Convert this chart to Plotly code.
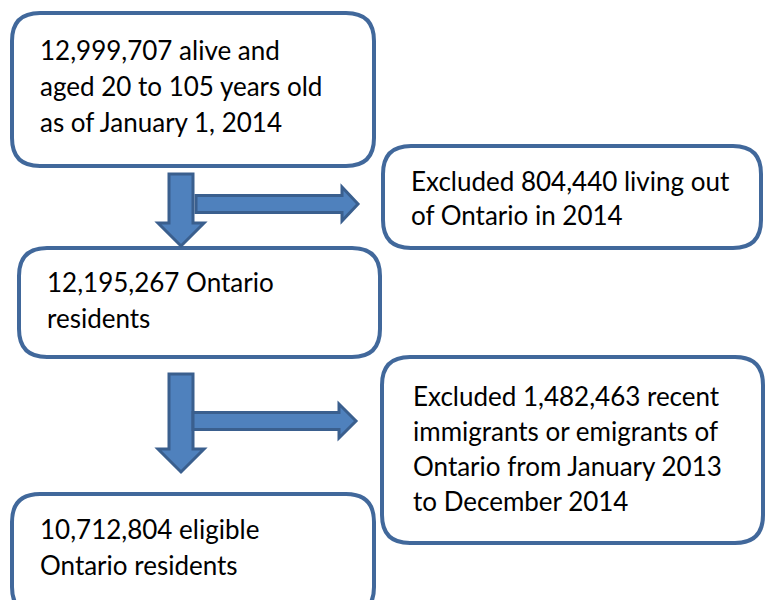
import plotly.graph_objects as go

# ---- content ----
box_texts = [
    ["12,999,707 alive and", "aged 20 to 105 years old", "as of January 1, 2014"],
    ["Excluded 804,440 living out", "of Ontario in 2014"],
    ["12,195,267 Ontario", "residents"],
    ["Excluded 1,482,463 recent", "immigrants or emigrants of", "Ontario from January 2013", "to December 2014"],
    ["10,712,804 eligible", "Ontario residents"],
]

# ---- layout (pixels, y downwards) ----
boxes = [  # x0, y0, x1, y1
    (12, 13, 374, 166),
    (383, 146, 761, 248),
    (19, 248, 380, 357),
    (382, 357, 763, 543),
    (12, 494, 374, 615),
]
text_pos = [  # x, first line center y
    (38, 50),
    (409, 181),
    (45, 282),
    (411, 396),
    (38, 529),
]
line_gap = [36, 34, 36, 35, 36]
RADIUS = 28
BORDER = "#41689B"
ARROW_FILL = "#4F81BD"
ARROW_LINE = "#3A5F8E"

def rounded(x0, y0, x1, y1, r):
    return (f"M{x0+r},{y0} L{x1-r},{y0} Q{x1},{y0} {x1},{y0+r} "
            f"L{x1},{y1-r} Q{x1},{y1} {x1-r},{y1} L{x0+r},{y1} "
            f"Q{x0},{y1} {x0},{y1-r} L{x0},{y0+r} Q{x0},{y0} {x0+r},{y0} Z")

def down_arrow(cx, y0, shaft_w, y_head, head_w, y_tip):
    h = shaft_w / 2
    H = head_w / 2
    return (f"M{cx-h},{y0} L{cx+h},{y0} L{cx+h},{y_head} L{cx+H},{y_head} "
            f"L{cx},{y_tip} L{cx-H},{y_head} L{cx-h},{y_head} Z")

def right_arrow(x0, cy, shaft_h, x_head, head_h, x_tip):
    h = shaft_h / 2
    H = head_h / 2
    return (f"M{x0},{cy-h} L{x_head},{cy-h} L{x_head},{cy-H} L{x_tip},{cy} "
            f"L{x_head},{cy+H} L{x_head},{cy+h} L{x0},{cy+h} Z")

arrows = [
    down_arrow(181, 174, 24, 223, 46, 246),
    right_arrow(196, 204, 17, 342, 34, 358),
    down_arrow(181, 374, 24, 449, 46, 472),
    right_arrow(193, 421, 17, 339, 34, 356),
]

fig = go.Figure()
shapes = []
for (x0, y0, x1, y1) in boxes:
    shapes.append(dict(type="path", path=rounded(x0, y0, x1, y1, RADIUS),
                       xref="x", yref="y", fillcolor="white",
                       line=dict(color=BORDER, width=4)))
for p in arrows:
    shapes.append(dict(type="path", path=p, xref="x", yref="y",
                       fillcolor=ARROW_FILL, line=dict(color=ARROW_LINE, width=3)))

annotations = []
for lines, (tx, ty), gap in zip(box_texts, text_pos, line_gap):
    for i, ln in enumerate(lines):
        annotations.append(dict(x=tx, y=ty + i * gap, text=ln, xref="x", yref="y",
                                xanchor="left", yanchor="middle", showarrow=False,
                                font=dict(family="Lato, Carlito, Calibri, sans-serif",
                                          size=26, color="black")))

W, H = 765, 600
fig.update_layout(
    width=W, height=H,
    margin=dict(l=0, r=0, t=0, b=0),
    paper_bgcolor="white", plot_bgcolor="white",
    shapes=shapes, annotations=annotations,
    xaxis=dict(range=[0, W], visible=False, fixedrange=True),
    yaxis=dict(range=[H, 0], visible=False, fixedrange=True),
    showlegend=False,
)
fig.write_html(
    "out.html",
    config={"displayModeBar": False},
    post_script="document.body.style.margin='0';document.body.style.overflow='hidden';",
)
